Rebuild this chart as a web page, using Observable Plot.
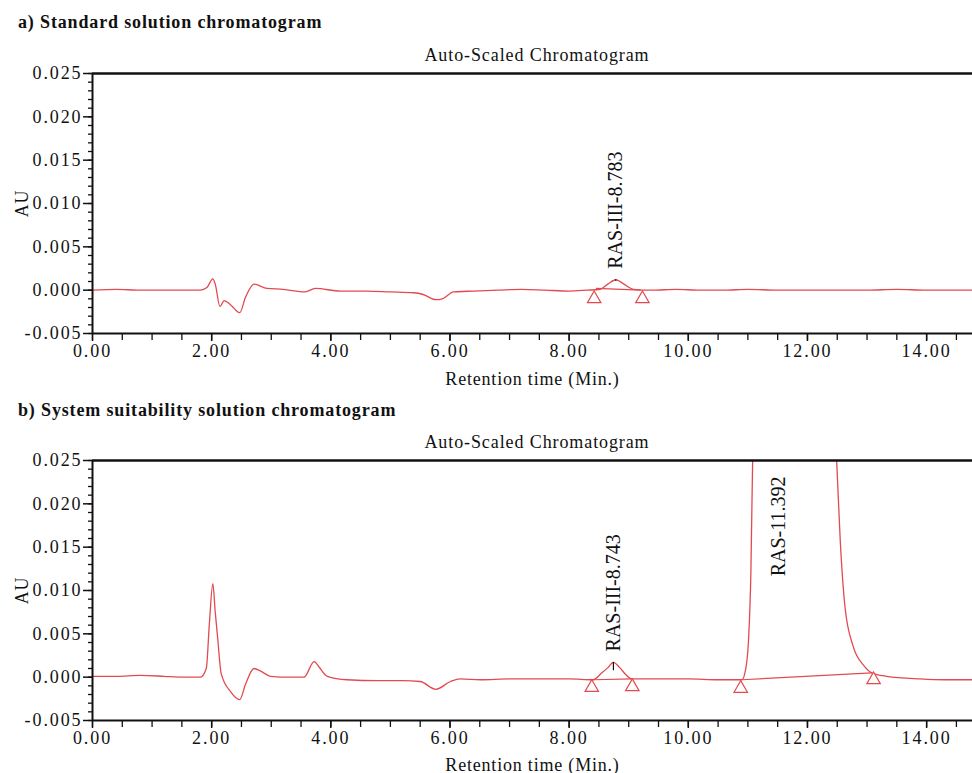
<!DOCTYPE html>
<html><head><meta charset="utf-8">
<script src="https://cdn.jsdelivr.net/npm/d3@7"></script>
<script src="https://cdn.jsdelivr.net/npm/@observablehq/plot@0.6"></script>
<style>
body{margin:0;background:#fff;}
#wrap{position:relative;width:972px;height:773px;overflow:hidden;font-family:"Liberation Serif","Times New Roman",serif;color:#111;}
.title{position:absolute;left:18px;font-weight:bold;font-size:18px;line-height:20px;letter-spacing:0.85px;z-index:2;}
.sub{position:absolute;left:92px;width:890px;text-align:center;font-size:18px;line-height:20px;letter-spacing:0.9px;z-index:2;}
.panel{position:absolute;left:0;z-index:1;}
.panel svg g[aria-label$="tick label"] text{letter-spacing:1.9px}
.panel svg g[aria-label$="axis label"] text{letter-spacing:0.8px}
</style></head>
<body><div id="wrap">
<div class="panel" id="pa" style="top:40px"></div>
<div class="panel" id="pb" style="top:428px"></div>
<div class="title" style="top:12px">a) Standard solution chromatogram</div>
<div class="sub" style="top:45px">Auto-Scaled Chromatogram</div>
<div class="title" style="top:400px">b) System suitability solution chromatogram</div>
<div class="sub" style="top:432px">Auto-Scaled Chromatogram</div>
</div>
<script>
// ---- Data ----
const xMajor = [0, 2, 4, 6, 8, 10, 12, 14];
const xMinor = d3.range(0, 14.75, 0.5);
const yMajor = [-0.005, 0, 0.005, 0.010, 0.015, 0.020, 0.025];
const yMinor = d3.range(-5, 26, 1).map(d => d / 1000);
const xDomain = [0, 14.77];
const yDomain = [-0.005, 0.025];

// Panel a: standard solution trace
const timeA = [0, 0.4, 0.8, 1.2, 1.5, 1.81, 1.92, 2.02, 2.06, 2.14, 2.21, 2.32, 2.47, 2.57, 2.71, 2.93, 3.2, 3.57, 3.74, 4.16, 4.6, 5.0, 5.39, 5.55, 5.76, 5.87, 6.06, 6.39, 6.8, 7.2, 7.6, 8.0, 8.3, 8.52, 8.65, 8.783, 8.92, 9.08, 9.4, 9.8, 10.2, 10.6, 11.0, 11.5, 12.0, 12.5, 13.0, 13.5, 14.0, 14.4, 14.77];
const auA = [0, 0.0001, 0, 0, 0, 0, 0.0003, 0.0013, 0.0007, -0.0019, -0.0012, -0.0017, -0.0026, -0.0008, 0.0007, 0.0002, 0.0001, -0.0002, 0.0002, -0.0001, -0.0001, -0.0002, -0.0003, -0.0005, -0.0011, -0.001, -0.0002, -0.0001, 0, 0.0001, 0, -0.0001, 0, 0.0001, 0.0007, 0.0012, 0.0007, 0.0001, 0, 0.0001, 0, 0, 0.0001, 0, 0, 0, 0, 0.0001, 0, 0, 0];
const peakTimeA = [8.783];
const peakApexA = [0.0012];
const peakBaseA = [0.0];
const peakLabelA = ["RAS-III-8.783"];
const baseStartTA = [8.45], baseStartVA = [0.0002], baseEndTA = [9.2], baseEndVA = [0.0];
const triTimeA = [8.42, 9.23];
const triAuA = [-0.001, -0.001];

// Panel b: system suitability trace
const timeB = [0, 0.4, 0.8, 1.2, 1.5, 1.81, 1.91, 1.96, 2.02, 2.06, 2.10, 2.16, 2.32, 2.47, 2.57, 2.71, 2.82, 2.99, 3.3, 3.55, 3.72, 3.80, 3.94, 4.27, 4.8, 5.2, 5.50, 5.76, 6.01, 6.17, 6.51, 7.0, 7.5, 8.0, 8.40, 8.55, 8.65, 8.743, 8.85, 8.95, 9.05, 9.5, 10.0, 10.5, 10.85, 10.90, 10.96, 11.01, 11.05, 11.08, 11.15, 11.392, 11.6, 12.0, 12.3, 12.49, 12.55, 12.63, 12.77, 12.94, 13.08, 13.33, 13.89, 14.3, 14.77];
const auB = [0.0001, 0.0001, 0.0002, 0.0001, 0, 0, 0.001, 0.006, 0.0108, 0.0075, 0.0046, 0.0004, -0.0017, -0.0026, -0.0008, 0.001, 0.0007, 0.0001, 0, 0, 0.0018, 0.0012, 0.0001, -0.0003, -0.0004, -0.0004, -0.0005, -0.0014, -0.0005, -0.0002, -0.0003, -0.0002, -0.0002, -0.0002, -0.0003, 0.0005, 0.0011, 0.0017, 0.0011, 0.0003, -0.0002, -0.0002, -0.0002, -0.0003, -0.0003, -0.0003, 0.0008, 0.0042, 0.012, 0.025, 0.07, 0.3, 0.22, 0.09, 0.045, 0.025, 0.0158, 0.0081, 0.0035, 0.0014, 0.0005, 0.0001, -0.0002, -0.0003, -0.0003];
const peakTimeB = [8.743];
const peakApexB = [0.0017];
const peakBaseB = [-0.0003];
const peakLabelB = ["RAS-III-8.743"];
const bigPeakTimeB = [11.392];
const bigPeakLabelB = ["RAS-11.392"];
const baseStartTB = [8.40, 10.90], baseStartVB = [-0.0003, -0.0003], baseEndTB = [9.06, 13.08], baseEndVB = [-0.0002, 0.0005];
const triTimeB = [8.38, 9.06, 10.88, 13.11];
const triAuB = [-0.0012, -0.0011, -0.0013, -0.0003];

// ---- Drawing ----
const RED = "#e24a50";
function build(o) {
  const trace = o.time.map((t, i) => ({t, v: o.au[i]}));
  const peaks = o.pt.map((t, i) => ({t, apex: o.pa[i], base: o.pb[i], label: o.pl[i]}));
  const bases = o.bst.map((t, i) => ({t1: t, v1: o.bsv[i], t2: o.bet[i], v2: o.bev[i]}));
  const tris = o.tt.map((t, i) => ({t, v: o.tv[i]}));
  const big = (o.bt || []).map((t, i) => ({t, label: o.bl[i]}));
  return Plot.plot({
    width: 972, height: o.height,
    marginLeft: 92, marginRight: 0, marginTop: o.mt, marginBottom: o.mb,
    style: {fontFamily: "'Liberation Serif', 'Times New Roman', serif", fontSize: "18px", color: "#111", background: "transparent"},
    x: {domain: xDomain},
    y: {domain: yDomain},
    marks: [
      Plot.axisY({ticks: yMinor, tickSize: 4, tickFormat: () => "", strokeWidth: 1.3}),
      Plot.axisY({ticks: yMajor, tickSize: 9, tickPadding: 1, strokeWidth: 1.5, tickFormat: d => d.toFixed(3), fontSize: 18, label: "AU", labelArrow: "none", labelAnchor: "center", labelOffset: 77}),
      Plot.axisX({ticks: xMinor, tickSize: 7, tickFormat: () => "", strokeWidth: 1.3}),
      Plot.axisX({ticks: xMajor, tickSize: 8, tickPadding: 3, strokeWidth: 1.5, tickFormat: d => d.toFixed(2), fontSize: 18, label: "Retention time (Min.)", labelArrow: "none", labelAnchor: "center", labelOffset: o.lo}),
      Plot.line(trace, {x: "t", y: "v", stroke: RED, strokeWidth: 1.3, curve: "monotone-x", clip: true}),
      Plot.link(bases, {x1: "t1", y1: "v1", x2: "t2", y2: "v2", stroke: RED, strokeWidth: 1.2}),
      Plot.ruleX(peaks, {x: "t", y1: "base", y2: "apex", insetTop: -9, stroke: "#111", strokeWidth: 1.2}),
      Plot.text(peaks, {x: "t", y: "apex", text: "label", rotate: -90, textAnchor: "start", dy: -11, fontSize: 20, fill: "#111"}),
      Plot.text(big, {x: "t", frameAnchor: "top", text: "label", rotate: -90, textAnchor: "end", dy: 16, fontSize: 20, fill: "#111"}),
      Plot.dot(tris, {x: "t", y: "v", symbol: "triangle", r: 5, stroke: RED, fill: "white", strokeWidth: 1.2}),
      Plot.ruleY([yDomain[1]], {stroke: "#111", strokeWidth: 2.5}),
      Plot.ruleY([yDomain[0]], {stroke: "#111", strokeWidth: 2}),
      Plot.ruleX([xDomain[0]], {stroke: "#111", strokeWidth: 2})
    ]
  });
}
document.getElementById("pa").append(build({
  height: 350, mt: 33, mb: 57, lo: 51,
  time: timeA, au: auA, pt: peakTimeA, pa: peakApexA, pb: peakBaseA, pl: peakLabelA,
  bst: baseStartTA, bsv: baseStartVA, bet: baseEndTA, bev: baseEndVA, tt: triTimeA, tv: triAuA
}));
document.getElementById("pb").append(build({
  height: 345, mt: 32, mb: 53, lo: 50,
  time: timeB, au: auB, pt: peakTimeB, pa: peakApexB, pb: peakBaseB, pl: peakLabelB,
  bst: baseStartTB, bsv: baseStartVB, bet: baseEndTB, bev: baseEndVB, tt: triTimeB, tv: triAuB,
  bt: bigPeakTimeB, bl: bigPeakLabelB
}));
</script>
</body></html>
